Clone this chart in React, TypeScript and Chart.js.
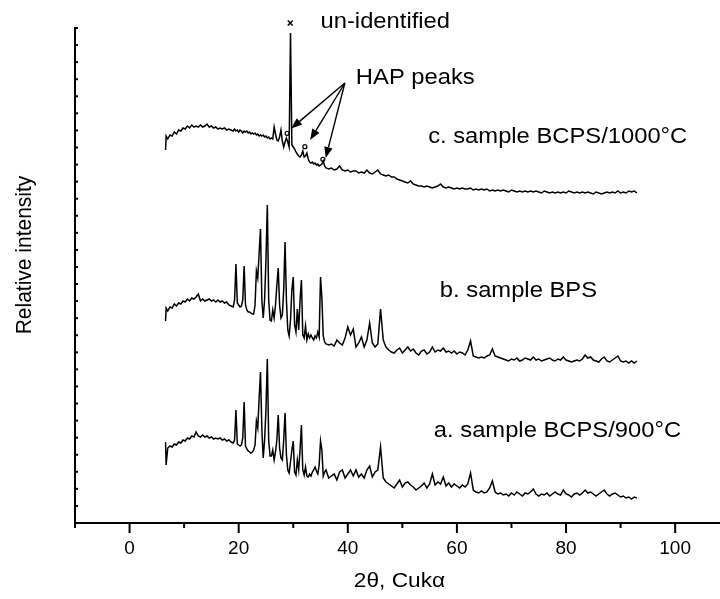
import React, { useEffect, useRef } from 'react';
import { Chart, registerables } from 'chart.js';

Chart.register(...registerables);

// 2θ grid (degrees)
const twoTheta = [
  6.6, 6.7, 7.0, 7.4, 7.8, 8.2, 8.6, 9.0, 9.4, 9.8,
  10.2, 10.6, 11.0, 11.4, 11.8, 12.2, 12.6, 13.0, 13.4, 13.8,
  14.2, 14.6, 15.0, 15.4, 15.8, 16.2, 16.6, 17.0, 17.4, 17.8,
  18.2, 18.6,
  19, 19.25, 19.5, 19.75, 20, 20.25, 20.5, 20.75, 21, 21.25,
  21.5, 21.75, 22, 22.25, 22.5, 22.75, 23, 23.25, 23.5, 23.75,
  24, 24.25, 24.5, 24.75, 25, 25.25, 25.5, 25.75, 26, 26.25,
  26.5, 26.75, 27, 27.25, 27.5, 27.75, 28, 28.25, 28.5, 28.75,
  29, 29.25, 29.5, 29.75, 30, 30.25, 30.5, 30.75, 31, 31.25,
  31.5, 31.75, 32, 32.25, 32.5, 32.75, 33, 33.25, 33.5, 33.75,
  34, 34.25, 34.5, 34.75, 35, 35.25, 35.5, 35.75, 36,
  36.5, 37, 37.5, 38, 38.5, 39, 39.5, 40, 40.5, 41,
  41.5, 42, 42.5, 43, 43.5, 44, 44.5, 45, 45.5, 46,
  46.5, 47, 47.5, 48, 48.5, 49, 49.5, 50, 50.5, 51,
  51.5, 52, 52.5, 53, 53.5, 54, 54.5, 55, 55.5, 56,
  56.5, 57, 57.5, 58, 58.5, 59, 59.5, 60, 60.5, 61,
  61.5, 62, 62.5, 63, 63.5, 64, 64.5, 65, 65.5, 66,
  66.5, 67, 67.5, 68, 68.5, 69, 69.5, 70, 70.5, 71,
  71.5, 72, 72.5, 73, 73.5, 74, 74.5, 75, 75.5, 76,
  76.5, 77, 77.5, 78, 78.5, 79, 79.5, 80, 80.5, 81,
  81.5, 82, 82.5, 83, 83.5, 84, 84.5, 85, 85.5, 86,
  86.5, 87, 87.5, 88, 88.5, 89, 89.5, 90, 90.5, 91,
  91.5, 92, 92.5, 93,
];

// a. sample BCPS/900°C (offset trace, arbitrary units)
const sampleA = [
  81, 58, 75, 77, 76, 79, 78, 81, 80, 83,
  82, 85, 84, 87, 86, 91, 87, 86, 88, 86,
  87, 85, 86, 84, 85, 84, 85, 83, 84, 82,
  83, 81,
  80, 83, 113, 79, 78, 77, 78, 85, 121, 77,
  74, 72, 71, 70, 71, 73, 78, 102, 95, 125,
  151, 93, 65, 83, 113, 164, 83, 67, 67, 73,
  63, 71, 83, 108, 75, 65, 63, 83, 110, 68,
  53, 50, 61, 73, 82, 51, 48, 63, 53, 73,
  98, 53, 48, 56, 47, 46, 49, 47, 51, 53,
  56, 52, 49, 58, 82, 73, 47, 51, 53,
  45, 47, 49, 43, 51, 53, 45, 49, 53, 47,
  53, 46, 49, 45, 53, 57, 46, 51, 53, 76,
  45, 41, 39, 37, 35, 39, 43, 36, 40, 41,
  38, 36, 33, 35, 37, 40, 35, 39, 49, 38,
  41, 39, 46, 37, 40, 36, 39, 37, 35, 38,
  36, 39, 50, 33, 31, 30, 32, 30, 31, 35,
  42, 31, 29, 30, 28, 29, 27, 30, 28, 31,
  29, 27, 30, 29, 31, 34, 29, 27, 29, 28,
  30, 27, 29, 31, 29, 28, 33, 29, 28, 26,
  29, 30, 28, 30, 33, 30, 31, 29, 27, 29,
  31, 33, 29, 27, 29, 30, 28, 26, 27, 25,
  26, 24, 26, 25,
];

// b. sample BPS
const sampleB = [
  202, 215, 212, 216, 215, 219, 217, 220, 219, 222,
  221, 224, 222, 225, 224, 226, 229, 222, 224, 222,
  223, 224, 222, 223, 221, 223, 221, 222, 220, 221,
  218, 217,
  216, 223, 259, 220, 218, 216, 217, 223, 257, 218,
  213, 211, 211, 210, 209, 209, 218, 252, 245, 270,
  294, 223, 205, 223, 263, 318, 223, 203, 202, 213,
  205, 218, 238, 255, 218, 205, 208, 233, 281, 223,
  193, 187, 203, 233, 246, 198, 191, 214, 193, 223,
  243, 188, 185, 197, 183, 189, 185, 188, 185, 183,
  187, 185, 191, 186, 246, 225, 187, 181, 179,
  178, 179, 177, 183, 180, 178, 185, 196, 188, 194,
  176, 180, 186, 176, 183, 200, 180, 176, 179, 214,
  183, 176, 173, 171, 170, 173, 175, 170, 173, 176,
  172, 174, 170, 168, 172, 173, 169, 171, 176, 171,
  173, 172, 175, 171, 172, 170, 172, 169, 171, 170,
  168, 173, 182, 167, 166, 165, 166, 165, 167, 168,
  174, 167, 166, 165, 164, 163, 162, 164, 163, 165,
  162, 163, 165, 164, 163, 166, 163, 164, 162, 163,
  164, 165, 163, 162, 164, 163, 166, 163, 162, 161,
  162, 163, 162, 164, 168, 165, 166, 163, 162, 161,
  164, 166, 162, 161, 163, 165, 167, 162, 161, 162,
  160, 162, 160, 162,
];

// c. sample BCPS/1000°C
const sampleC = [
  373, 387, 384, 388, 387, 391, 389, 393, 392, 395,
  394, 397, 395, 398, 396, 397, 396, 398, 396, 397,
  399, 396, 397, 395, 396, 394, 395, 394, 395, 393,
  394, 393,
  392, 394, 392, 393, 391, 393, 392, 390, 392, 391,
  392, 390, 391, 389, 390, 389, 390, 388, 389, 387,
  388, 387, 388, 386, 387, 385, 386, 384, 385, 384,
  396, 389, 383, 382, 386, 393, 382, 376, 381, 385,
  381, 376, 490, 378, 376, 374, 371, 369, 367, 366,
  368, 372, 366, 367, 370, 364, 361, 360, 361, 359,
  360, 358, 359, 357, 358, 359, 362, 357, 355,
  354, 355, 353, 354, 357, 353, 352, 353, 351, 352,
  352, 350, 351, 350, 353, 350, 349, 351, 353, 349,
  348, 347, 348, 346, 346, 344, 343, 342, 341, 340,
  342, 339, 338, 337, 337, 336, 337, 336, 335, 336,
  337, 339, 336, 335, 336, 335, 334, 335, 334, 335,
  334, 334, 335, 333, 334, 333, 334, 333, 334, 332,
  333, 332, 333, 332, 333, 332, 331, 333, 332, 331,
  332, 331, 332, 331, 332, 331, 332, 331, 330, 332,
  331, 330, 331, 330, 331, 330, 331, 330, 332, 331,
  330, 331, 330, 331, 330, 331, 330, 329, 331, 330,
  329, 330, 331, 330, 331, 330, 332, 330, 331, 330,
  332, 331, 332, 330,
];

// axis ticks
const majorTicks = [0, 20, 40, 60, 80, 100];
const minorTicks = [-10, 10, 30, 50, 70, 90];
const yTickCount = 29;

// annotation markers (data units)
const unidentifiedMark = [{ x: 29.45, y: 500 }];
const hapMarks = [
  { x: 28.88, y: 389.7 },
  { x: 32.13, y: 376.3 },
  { x: 35.43, y: 363.7 },
];
const hapArrowFrom = { x: 39.46, y: 440 };
const hapArrowTips = [
  { x: 29.62, y: 394.5 },
  { x: 33.1, y: 383 },
  { x: 35.95, y: 365 },
];
const sampleLabels = ['a. sample BCPS/900°C', 'b. sample BPS', 'c. sample BCPS/1000°C'];
const sampleLabelAt = [
  { x: 55.77, y: 86.3 },
  { x: 56.87, y: 226.3 },
  { x: 54.73, y: 379.7 },
];
const unidentifiedLabel = { text: 'un-identified', x: 35.0, y: 494.7 };
const hapLabel = { text: 'HAP peaks', x: 41.48, y: 439 };

const FONT = '"Liberation Sans", Arial, Helvetica, sans-serif';
const STRETCH = 1.08;

function toPoints(ys: number[]) {
  const n = Math.min(ys.length, twoTheta.length);
  const out: { x: number; y: number }[] = [];
  for (let i = 0; i < n; i++) out.push({ x: twoTheta[i], y: ys[i] });
  return out;
}

function drawText(ctx: CanvasRenderingContext2D, text: string, x: number, y: number, size: number) {
  ctx.save();
  ctx.translate(x, y);
  ctx.scale(STRETCH, 1);
  ctx.font = `${size}px ${FONT}`;
  ctx.textAlign = 'left';
  ctx.textBaseline = 'alphabetic';
  ctx.fillText(text, 0, 0);
  ctx.restore();
}

const decorPlugin = {
  id: 'xrdDecor',
  afterDraw(chart: any) {
    const { ctx, chartArea, scales } = chart;
    const xs = scales.x;
    const ys = scales.y;
    ctx.save();
    ctx.strokeStyle = '#000';
    ctx.fillStyle = '#000';

    // x tick marks (outside)
    ctx.lineWidth = 2;
    const b = chartArea.bottom;
    for (const v of majorTicks) {
      const px = xs.getPixelForValue(v);
      ctx.beginPath();
      ctx.moveTo(px, b);
      ctx.lineTo(px, b + 10);
      ctx.stroke();
    }
    for (const v of minorTicks) {
      const px = xs.getPixelForValue(v);
      ctx.beginPath();
      ctx.moveTo(px, b);
      ctx.lineTo(px, b + 5);
      ctx.stroke();
    }
    // y tick marks (inside, small)
    const l = chartArea.left;
    for (let i = 0; i <= yTickCount; i++) {
      const v = ys.min + (i * (ys.max - ys.min)) / yTickCount;
      const py = ys.getPixelForValue(v);
      ctx.beginPath();
      ctx.moveTo(l, py);
      ctx.lineTo(l + 3, py);
      ctx.stroke();
    }

    // arrows
    const fx = xs.getPixelForValue(hapArrowFrom.x);
    const fy = ys.getPixelForValue(hapArrowFrom.y);
    ctx.lineWidth = 1.4;
    for (const t of hapArrowTips) {
      const tx = xs.getPixelForValue(t.x);
      const ty = ys.getPixelForValue(t.y);
      const ang = Math.atan2(ty - fy, tx - fx);
      const headLen = 11;
      const headW = 4.2;
      const bx = tx - headLen * Math.cos(ang);
      const by = ty - headLen * Math.sin(ang);
      ctx.beginPath();
      ctx.moveTo(fx, fy);
      ctx.lineTo(bx, by);
      ctx.stroke();
      ctx.beginPath();
      ctx.moveTo(tx, ty);
      ctx.lineTo(bx + headW * Math.sin(ang), by - headW * Math.cos(ang));
      ctx.lineTo(bx - headW * Math.sin(ang), by + headW * Math.cos(ang));
      ctx.closePath();
      ctx.fill();
    }

    // texts
    drawText(ctx, unidentifiedLabel.text, xs.getPixelForValue(unidentifiedLabel.x), ys.getPixelForValue(unidentifiedLabel.y), 22);
    drawText(ctx, hapLabel.text, xs.getPixelForValue(hapLabel.x), ys.getPixelForValue(hapLabel.y), 22);
    sampleLabels.forEach((s, i) => {
      drawText(ctx, s, xs.getPixelForValue(sampleLabelAt[i].x), ys.getPixelForValue(sampleLabelAt[i].y), 22);
    });

    // axis titles
    ctx.font = `21px ${FONT}`;
    ctx.textAlign = 'center';
    ctx.textBaseline = 'middle';
    ctx.save();
    ctx.translate((chartArea.left + chartArea.right) / 2 + 2, 581);
    ctx.scale(STRETCH, 1);
    ctx.fillText('2θ, Cukα', 0, 0);
    ctx.restore();

    ctx.save();
    ctx.translate(25, 255);
    ctx.rotate(-Math.PI / 2);
    ctx.scale(1, STRETCH);
    ctx.fillText('Relative intensity', 0, 0);
    ctx.restore();

    ctx.restore();
  },
};

export default function App() {
  const canvasRef = useRef<HTMLCanvasElement | null>(null);

  useEffect(() => {
    const canvas = canvasRef.current;
    if (!canvas) return;
    const line = (ys: number[], label: string) => ({
      label,
      data: toPoints(ys),
      borderColor: '#000',
      borderWidth: 1.5,
      pointRadius: 0,
      fill: false,
      tension: 0,
    });
    const chart = new Chart(canvas, {
      type: 'line',
      data: {
        datasets: [
          line(sampleA, 'a') as any,
          line(sampleB, 'b') as any,
          line(sampleC, 'c') as any,
          {
            label: 'un-identified',
            data: unidentifiedMark,
            showLine: false,
            pointStyle: 'crossRot',
            pointRadius: 3.5,
            borderColor: '#000',
            borderWidth: 1.5,
            clip: false,
          } as any,
          {
            label: 'HAP',
            data: hapMarks,
            showLine: false,
            pointStyle: 'circle',
            pointRadius: 2,
            borderColor: '#000',
            backgroundColor: '#fff',
            borderWidth: 1.2,
          } as any,
        ],
      },
      options: {
        animation: false,
        responsive: false,
        devicePixelRatio: 1,
        parsing: false as any,
        normalized: true,
        layout: { autoPadding: false, padding: { top: 28, right: 0, left: 0, bottom: 0 } } as any,
        plugins: {
          legend: { display: false },
          tooltip: { enabled: false },
        },
        scales: {
          x: {
            type: 'linear',
            min: -10,
            max: 108.22,
            afterFit: (s: any) => {
              s.height = 76;
            },
            grid: { display: false, drawTicks: false },
            border: { display: true, color: '#000', width: 2 },
            ticks: {
              stepSize: 10,
              autoSkip: false,
              maxRotation: 0,
              includeBounds: false,
              padding: 14,
              color: '#000',
              font: { family: FONT, size: 19 },
              callback: (v: any) => (majorTicks.includes(Number(v)) ? String(v) : ''),
            },
          },
          y: {
            type: 'linear',
            min: 0,
            max: 495,
            afterFit: (s: any) => {
              s.width = 75;
            },
            grid: { display: false, drawTicks: false },
            border: { display: true, color: '#000', width: 2 },
            ticks: { display: false },
          },
        },
      },
      plugins: [decorPlugin],
    });
    return () => chart.destroy();
  }, []);

  return (
    <div style={{ position: 'absolute', left: 0, top: 0, width: 720, height: 599, background: '#fff' }}>
      <canvas ref={canvasRef} width={720} height={599} style={{ display: 'block' }} />
    </div>
  );
}
